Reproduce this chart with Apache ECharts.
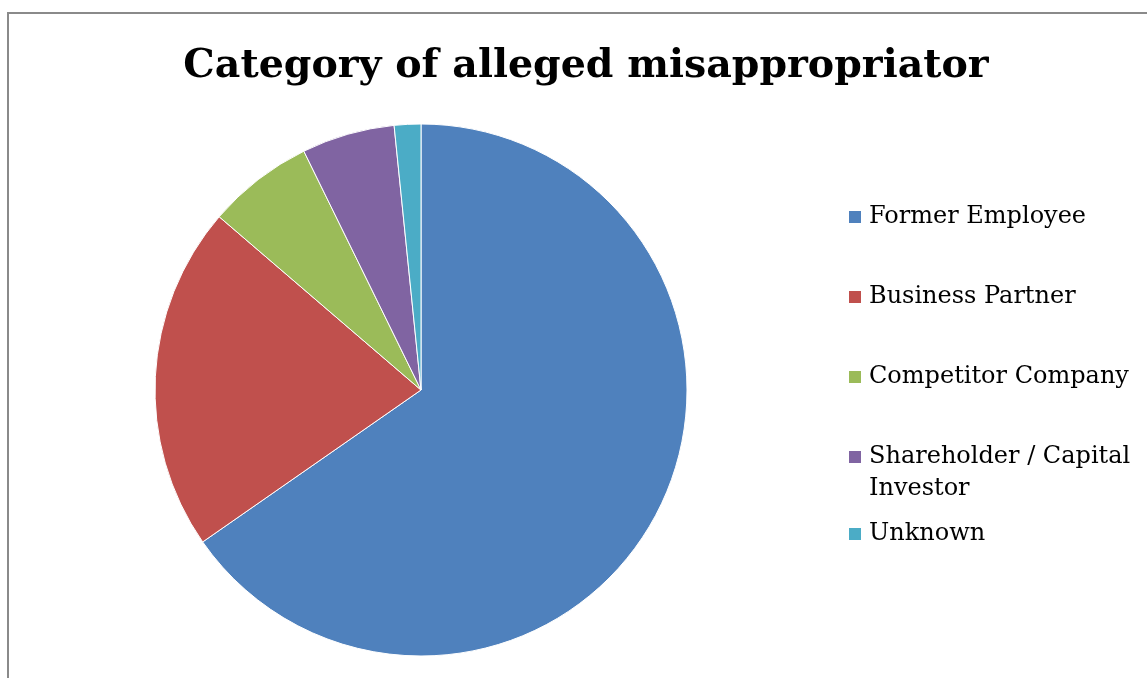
<!DOCTYPE html>
<html>
<head>
<meta charset="utf-8">
<script src="https://cdn.jsdelivr.net/npm/echarts@6/dist/echarts.min.js"></script>
<style>
  html, body { margin: 0; padding: 0; background: #fff; }
  #chart { width: 1147px; height: 678px; }
</style>
</head>
<body>
<div id="chart"></div>
<script>
// Who was alleged to have misappropriated the trade secret (number of cases)
const categories = ['Former Employee', 'Business Partner', 'Competitor Company', 'Shareholder / Capital\nInvestor', 'Unknown'];
const caseCounts = [81, 26, 8, 7, 2];
const sliceColors = ['#4F81BD', '#C0504D', '#9BBB59', '#8064A2', '#4BACC6'];
const chartTitle = 'Category of alleged misappropriator';

const serif = '"DejaVu Serif", "Liberation Serif", serif';
const pieData = categories.map((name, i) => ({
  name: name,
  value: caseCounts[i],
  itemStyle: { color: sliceColors[i] }
}));

const legendText = {
  fontFamily: serif,
  fontSize: 24,
  color: '#000',
  lineHeight: 32,
  padding: [0, 0, 0, 2]
};

// Legend blocks; the two-line entry gets a blank lead line so its swatch sits beside the first text line
function legendBlock(names, top, leadLine) {
  return {
    orient: 'vertical',
    left: 847,
    top: top,
    padding: 0,
    icon: 'rect',
    itemWidth: 14,
    itemHeight: 14,
    itemGap: 48,
    selectedMode: false,
    data: names,
    formatter: leadLine ? (name) => ' \n' + name : '{name}',
    textStyle: legendText
  };
}

const chart = echarts.init(document.getElementById('chart'), null, { renderer: 'canvas' });
chart.setOption({
  animation: false,
  backgroundColor: '#fff',
  graphic: [{
    type: 'rect',
    shape: { x: 8, y: 13, width: 1200, height: 700 },
    style: { fill: 'none', stroke: '#8a8a8a', lineWidth: 2 },
    silent: true
  }],
  title: {
    text: chartTitle,
    left: 581,
    textAlign: 'center',
    top: 42,
    textStyle: { fontFamily: serif, fontWeight: 'bold', fontSize: 39.5, color: '#000' }
  },
  legend: [
    legendBlock(categories.slice(0, 3), 201, false),
    legendBlock(categories.slice(3, 4), 409, true),
    legendBlock(categories.slice(4), 518, false)
  ],
  series: [{
    type: 'pie',
    center: [421, 390],
    radius: 266,
    startAngle: 90,
    clockwise: true,
    label: { show: false },
    labelLine: { show: false },
    emphasis: { disabled: true },
    itemStyle: { borderColor: '#fff', borderWidth: 1 },
    data: pieData
  }]
});
</script>
</body>
</html>
